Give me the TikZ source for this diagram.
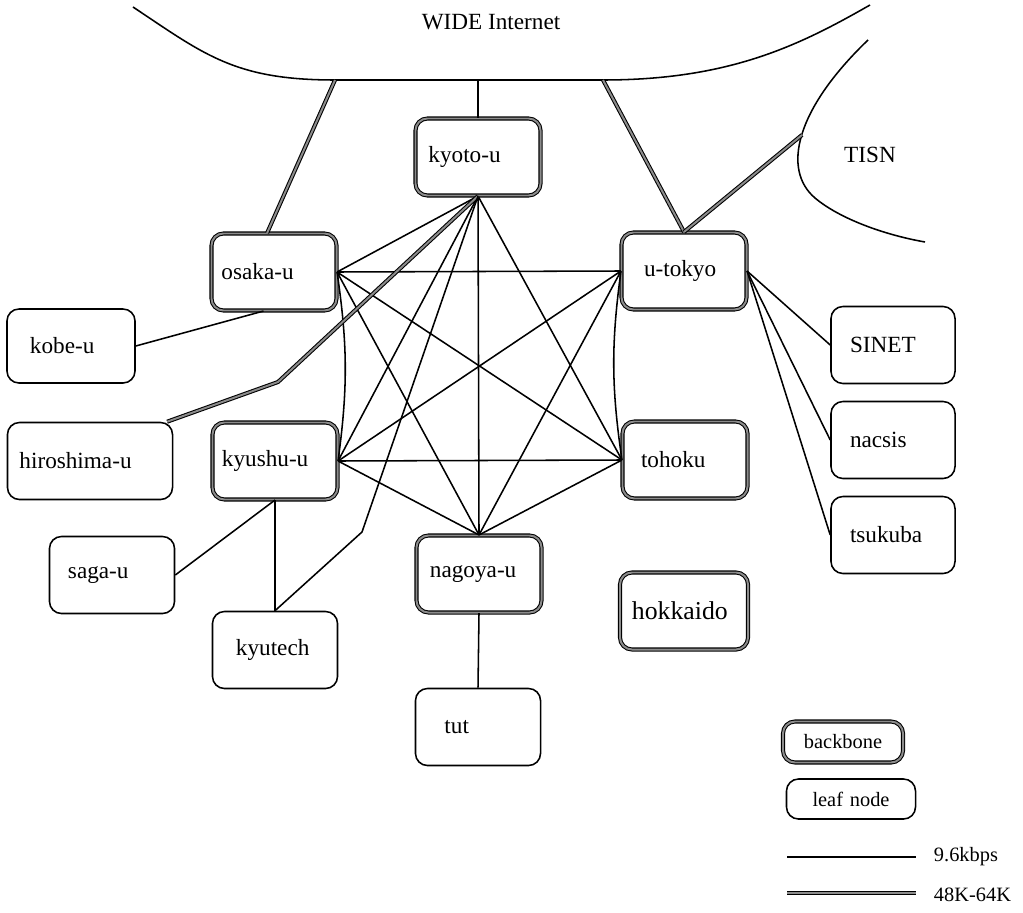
\documentclass[tikz,border=0pt]{standalone}
\usepackage{fontspec}
\setmainfont{Liberation Serif}
\usetikzlibrary{calc}
\newcommand\nodefont{\fontsize{16.5}{19}\selectfont}
\newcommand\legendfont{\fontsize{14.5}{17}\selectfont}

\begin{document}
\begin{tikzpicture}[
    x=0.025cm, y=-0.025cm,
    leaf/.style={draw, line width=1.1pt, rounded corners=0.3cm, fill=white,
                 minimum width=3.125cm, minimum height=1.925cm,
                 text width=2.2cm, align=left, font=\nodefont},
    backbone/.style={leaf, line width=0.75pt, double=black!45,
                     double distance=1.4pt},
    slow/.style={line width=1.1pt},
    fast/.style={line width=0.75pt, double=black!45, double distance=1.4pt},
    cloud/.style={line width=1.1pt},
]
\useasboundingbox (0,0) rectangle (1023,912);

% networks at the top
\draw[cloud] (133,7) .. controls (205,55) and (235,80) .. (335,80)
    -- (603,80) .. controls (730,80) and (800,45) .. (870,5);
\node[font=\nodefont] (wide) at (491,22) {WIDE Internet};
\draw[cloud] (868,40) .. controls (795,110) and (782,170) .. (815,198)
    .. controls (840,219) and (885,235) .. (925,242);
\node[font=\nodefont] (tisn) at (870,155) {TISN};
\coordinate (wideO) at (335,80);
\coordinate (wideK) at (478,80);
\coordinate (wideT) at (603,80);
\coordinate (tisnT) at (802,135);

% sites
\node[backbone, text width=2.475cm] (kyoto) at (478,157) {kyoto-u};
\node[backbone, text width=2.625cm] (osaka) at (274,272) {osaka-u};
\node[backbone, text width=2.0cm] (utokyo) at (684,271) {u-tokyo};
\node[leaf, minimum width=3.2cm, minimum height=1.85cm,
      text width=2.05cm] (kobe) at (71,346) {kobe-u};
\node[leaf, minimum width=4.125cm, text width=3.525cm]
      (hiroshima) at (90,461) {hiroshima-u};
\node[backbone, text width=2.65cm] (kyushu) at (275,461) {kyushu-u};
\node[backbone] (tohoku) at (685,460) {tohoku};
\node[leaf] (saga) at (112,575) {saga-u};
\node[backbone, text width=2.45cm] (nagoya) at (479,574) {nagoya-u};
\node[leaf, text width=1.95cm] (kyutech) at (275,650) {kyutech};
\node[backbone, minimum width=3.2cm, text width=2.6cm,
      font=\fontsize{18.3}{21}\selectfont] (hokkaido) at (684,611) {hokkaido};
\node[leaf, text width=1.675cm] (tut) at (478,727) {tut};
\node[leaf, minimum width=3.1cm, text width=2.15cm] (sinet) at (893,345) {SINET};
\node[leaf, minimum width=3.1cm, text width=2.15cm] (nacsis) at (893,440) {nacsis};
\node[leaf, minimum width=3.1cm, text width=2.15cm] (tsukuba) at (893,535) {tsukuba};

% links to the outside
\draw[fast] (osaka.100) -- (wideO);
\draw[slow] (kyoto.north) -- (wideK);
\draw[fast] (utokyo.north) -- (wideT);
\draw[fast] (utokyo.north) -- (tisnT);

% backbone mesh
\draw[slow] (kyoto.south) -- (osaka.east)
            (kyoto.south) -- (kyushu.east)
            (kyoto.south) -- (tohoku.west)
            (kyoto.south) -- (nagoya.north);
\draw[slow] (osaka.east) -- (utokyo.west)
            (osaka.east) -- (tohoku.west)
            (osaka.east) -- (nagoya.north);
\draw[slow] (osaka.east) to[bend left=8] (kyushu.east);
\draw[slow] (utokyo.west) to[bend right=8] (tohoku.west);
\draw[slow] (utokyo.west) -- (kyushu.east)
            (utokyo.west) -- (nagoya.north);
\draw[slow] (kyushu.east) -- (tohoku.west)
            (kyushu.east) -- (nagoya.north)
            (tohoku.west) -- (nagoya.north);

% leaf links
\coordinate (hbend) at (278,382);
\coordinate (kbend) at (362,532);
\draw[fast] (kyoto.south) -- (hbend) -- (hiroshima.27);
\draw[slow] (kyoto.south) -- (kbend) -- (kyutech.north);
\draw[slow] (kobe.east) -- (osaka.255);
\draw[slow] (kyushu.south) -- (saga.east);
\draw[slow] (kyushu.south) -- (kyutech.north);
\draw[slow] (nagoya.south) -- (tut.north);
\draw[slow] (utokyo.east) -- (sinet.west);
\draw[slow] (utokyo.east) -- (nacsis.west);
\draw[slow] (utokyo.east) -- (tsukuba.west);

% legend
\node[backbone, minimum width=3cm, minimum height=1.025cm, text width=2.4cm,
      align=center, font=\legendfont] (keybb) at (843,742) {backbone};
\node[leaf, minimum width=3.225cm, minimum height=1cm, text width=2.6cm,
      align=center, font=\legendfont] (keyleaf) at (851,799) {leaf node};
\coordinate (slowA) at (787,857);
\coordinate (slowB) at (916,857);
\coordinate (fastA) at (787,893);
\coordinate (fastB) at (916,893);
\draw[slow] (slowA) -- (slowB);
\draw[fast] (fastA) -- (fastB);
\node[anchor=west, font=\legendfont] (slowtxt) at (929,857) {9.6kbps};
\node[anchor=west, font=\legendfont] (fasttxt) at (929,895) {48K-64K};
\end{tikzpicture}
\end{document}
